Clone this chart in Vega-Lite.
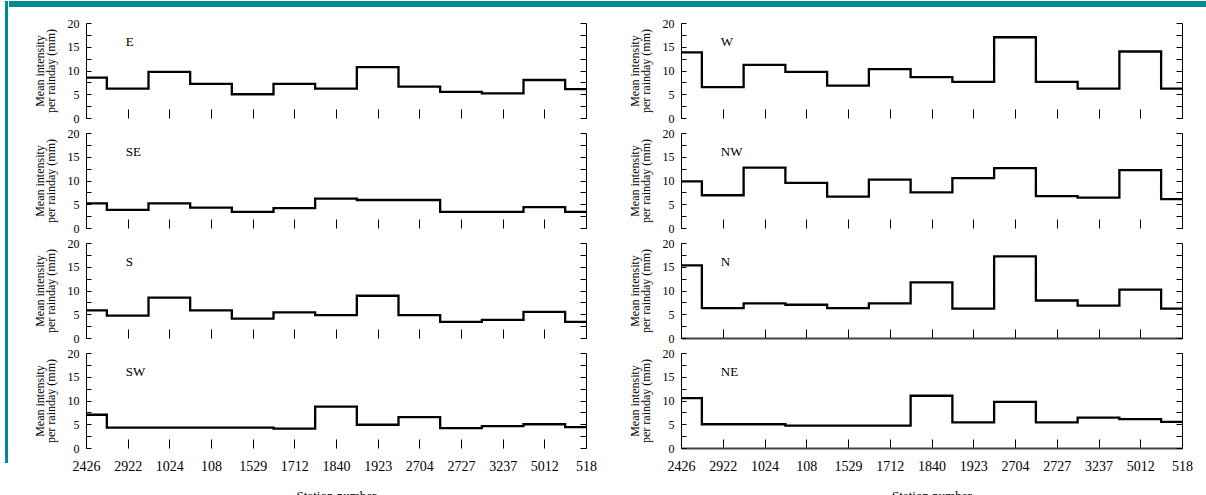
{
  "$schema": "https://vega.github.io/schema/vega-lite/v6.json",
  "padding": {"left": 4, "top": 0, "right": 0, "bottom": 0},
  "datasets": {
    "d": [
      {"dir":"E","station":"2426","value":8.5},{"dir":"E","station":"2922","value":6.2},{"dir":"E","station":"1024","value":9.7},{"dir":"E","station":"108","value":7.2},{"dir":"E","station":"1529","value":5.0},{"dir":"E","station":"1712","value":7.2},{"dir":"E","station":"1840","value":6.2},{"dir":"E","station":"1923","value":10.7},{"dir":"E","station":"2704","value":6.6},{"dir":"E","station":"2727","value":5.5},{"dir":"E","station":"3237","value":5.2},{"dir":"E","station":"5012","value":8.0},{"dir":"E","station":"518","value":6.1},
      {"dir":"SE","station":"2426","value":5.2},{"dir":"SE","station":"2922","value":3.8},{"dir":"SE","station":"1024","value":5.2},{"dir":"SE","station":"108","value":4.3},{"dir":"SE","station":"1529","value":3.4},{"dir":"SE","station":"1712","value":4.2},{"dir":"SE","station":"1840","value":6.2},{"dir":"SE","station":"1923","value":5.9},{"dir":"SE","station":"2704","value":5.9},{"dir":"SE","station":"2727","value":3.4},{"dir":"SE","station":"3237","value":3.4},{"dir":"SE","station":"5012","value":4.4},{"dir":"SE","station":"518","value":3.4},
      {"dir":"S","station":"2426","value":5.8},{"dir":"S","station":"2922","value":4.7},{"dir":"S","station":"1024","value":8.5},{"dir":"S","station":"108","value":5.8},{"dir":"S","station":"1529","value":4.1},{"dir":"S","station":"1712","value":5.4},{"dir":"S","station":"1840","value":4.8},{"dir":"S","station":"1923","value":8.9},{"dir":"S","station":"2704","value":4.8},{"dir":"S","station":"2727","value":3.4},{"dir":"S","station":"3237","value":3.8},{"dir":"S","station":"5012","value":5.5},{"dir":"S","station":"518","value":3.4},
      {"dir":"SW","station":"2426","value":7.0},{"dir":"SW","station":"2922","value":4.3},{"dir":"SW","station":"1024","value":4.3},{"dir":"SW","station":"108","value":4.3},{"dir":"SW","station":"1529","value":4.3},{"dir":"SW","station":"1712","value":4.1},{"dir":"SW","station":"1840","value":8.7},{"dir":"SW","station":"1923","value":4.9},{"dir":"SW","station":"2704","value":6.5},{"dir":"SW","station":"2727","value":4.2},{"dir":"SW","station":"3237","value":4.6},{"dir":"SW","station":"5012","value":5.0},{"dir":"SW","station":"518","value":4.4},
      {"dir":"W","station":"2426","value":13.8},{"dir":"W","station":"2922","value":6.5},{"dir":"W","station":"1024","value":11.2},{"dir":"W","station":"108","value":9.7},{"dir":"W","station":"1529","value":6.8},{"dir":"W","station":"1712","value":10.3},{"dir":"W","station":"1840","value":8.6},{"dir":"W","station":"1923","value":7.6},{"dir":"W","station":"2704","value":17.0},{"dir":"W","station":"2727","value":7.6},{"dir":"W","station":"3237","value":6.2},{"dir":"W","station":"5012","value":14.0},{"dir":"W","station":"518","value":6.2},
      {"dir":"NW","station":"2426","value":9.8},{"dir":"NW","station":"2922","value":6.9},{"dir":"NW","station":"1024","value":12.7},{"dir":"NW","station":"108","value":9.5},{"dir":"NW","station":"1529","value":6.6},{"dir":"NW","station":"1712","value":10.2},{"dir":"NW","station":"1840","value":7.5},{"dir":"NW","station":"1923","value":10.5},{"dir":"NW","station":"2704","value":12.6},{"dir":"NW","station":"2727","value":6.7},{"dir":"NW","station":"3237","value":6.4},{"dir":"NW","station":"5012","value":12.2},{"dir":"NW","station":"518","value":6.1},
      {"dir":"N","station":"2426","value":15.3},{"dir":"N","station":"2922","value":6.3},{"dir":"N","station":"1024","value":7.3},{"dir":"N","station":"108","value":7.0},{"dir":"N","station":"1529","value":6.3},{"dir":"N","station":"1712","value":7.3},{"dir":"N","station":"1840","value":11.7},{"dir":"N","station":"1923","value":6.2},{"dir":"N","station":"2704","value":17.2},{"dir":"N","station":"2727","value":7.9},{"dir":"N","station":"3237","value":6.8},{"dir":"N","station":"5012","value":10.2},{"dir":"N","station":"518","value":6.2},
      {"dir":"NE","station":"2426","value":10.5},{"dir":"NE","station":"2922","value":5.0},{"dir":"NE","station":"1024","value":5.0},{"dir":"NE","station":"108","value":4.7},{"dir":"NE","station":"1529","value":4.7},{"dir":"NE","station":"1712","value":4.7},{"dir":"NE","station":"1840","value":11.0},{"dir":"NE","station":"1923","value":5.4},{"dir":"NE","station":"2704","value":9.7},{"dir":"NE","station":"2727","value":5.4},{"dir":"NE","station":"3237","value":6.4},{"dir":"NE","station":"5012","value":6.1},{"dir":"NE","station":"518","value":5.5}
    ]
  },
  "data": {"name": "d"},
  "config": {
    "font": "Liberation Serif",
    "view": {"stroke": null},
    "axis": {"grid": false, "domainColor": "#000", "tickColor": "#000", "labelColor": "#000", "titleColor": "#000", "labelFont": "Liberation Serif", "titleFont": "Liberation Serif", "titleFontWeight": "normal"}
  },
  "spacing": 0,
  "hconcat": [
    {"width": 3, "height": 462, "view": {"fill": "#008a93", "stroke": null}, "data": {"values": [{}]}, "mark": {"type": "rule", "opacity": 0}, "encoding": {}},
    {
      "spacing": 10,
      "vconcat": [
        {"width": 1199, "height": 6, "view": {"fill": "#008a93", "stroke": null}, "data": {"values": [{}]}, "mark": {"type": "rule", "opacity": 0}, "encoding": {}},
        {
          "spacing": 31,
          "hconcat": [
            {
              "spacing": 23,
              "hconcat": [
                {"width": 1, "height": 1, "data": {"values": [{}]}, "mark": {"type": "rule", "opacity": 0}, "encoding": {}},
                {
                  "spacing": 3,
                  "vconcat": [
                    {"width": 500, "height": 95, "transform": [{"filter": "datum.dir === 'E'"}],
                     "layer": [
                      {"mark": {"type": "line", "interpolate": "step", "color": "#000", "strokeWidth": 2.3},
                       "encoding": {
                        "x": {"field": "station", "type": "ordinal", "sort": null, "scale": {"type": "point", "padding": 0, "domain": ["2426","2922","1024","108","1529","1712","1840","1923","2704","2727","3237","5012","518"]}, "axis": {"orient": "bottom", "tickSize": -9, "domain": false, "labels": false, "title": null}},
                        "y": {"field": "value", "type": "quantitative", "scale": {"domain": [0, 20], "nice": false}, "axis": {"orient": "left", "values": [0,2.5,5,7.5,10,12.5,15,17.5,20], "labelExpr": "datum.value % 5 === 0 ? datum.label : ''", "tickSize": -5, "labelFontSize": 12, "labelPadding": 12, "labelFlush": false, "title": ["Mean intensity", "per rainday (mm)"], "titleFontSize": 12, "titleLineHeight": 11, "titlePadding": 10}}}},
                      {"mark": {"type": "line", "opacity": 0},
                       "encoding": {"x": {"field": "station", "type": "ordinal", "sort": null}, "y": {"field": "value", "type": "quantitative", "axis": {"orient": "right", "values": [0,2.5,5,7.5,10,12.5,15,17.5,20], "labels": false, "tickSize": -6, "title": null}}}},
                      {"transform": [{"filter": "datum.station === '2922'"}], "mark": {"type": "text", "align": "left", "baseline": "middle", "dx": -2, "fontSize": 13, "color": "#000"},
                       "encoding": {"x": {"field": "station", "type": "ordinal", "sort": null}, "y": {"datum": 16, "type": "quantitative", "axis": null}, "text": {"field": "dir"}}}
                     ],
                     "resolve": {"axis": {"y": "independent"}}},
                    {"width": 500, "height": 95, "transform": [{"filter": "datum.dir === 'SE'"}],
                     "layer": [
                      {"mark": {"type": "line", "interpolate": "step", "color": "#000", "strokeWidth": 2.3},
                       "encoding": {
                        "x": {"field": "station", "type": "ordinal", "sort": null, "scale": {"type": "point", "padding": 0, "domain": ["2426","2922","1024","108","1529","1712","1840","1923","2704","2727","3237","5012","518"]}, "axis": {"orient": "bottom", "tickSize": -9, "domain": false, "labels": false, "title": null}},
                        "y": {"field": "value", "type": "quantitative", "scale": {"domain": [0, 20], "nice": false}, "axis": {"orient": "left", "values": [0,2.5,5,7.5,10,12.5,15,17.5,20], "labelExpr": "datum.value % 5 === 0 ? datum.label : ''", "tickSize": -5, "labelFontSize": 12, "labelPadding": 12, "labelFlush": false, "title": ["Mean intensity", "per rainday (mm)"], "titleFontSize": 12, "titleLineHeight": 11, "titlePadding": 10}}}},
                      {"mark": {"type": "line", "opacity": 0},
                       "encoding": {"x": {"field": "station", "type": "ordinal", "sort": null}, "y": {"field": "value", "type": "quantitative", "axis": {"orient": "right", "values": [0,2.5,5,7.5,10,12.5,15,17.5,20], "labels": false, "tickSize": -6, "title": null}}}},
                      {"transform": [{"filter": "datum.station === '2922'"}], "mark": {"type": "text", "align": "left", "baseline": "middle", "dx": -2, "fontSize": 13, "color": "#000"},
                       "encoding": {"x": {"field": "station", "type": "ordinal", "sort": null}, "y": {"datum": 16, "type": "quantitative", "axis": null}, "text": {"field": "dir"}}}
                     ],
                     "resolve": {"axis": {"y": "independent"}}},
                    {"width": 500, "height": 95, "transform": [{"filter": "datum.dir === 'S'"}],
                     "layer": [
                      {"mark": {"type": "line", "interpolate": "step", "color": "#000", "strokeWidth": 2.3},
                       "encoding": {
                        "x": {"field": "station", "type": "ordinal", "sort": null, "scale": {"type": "point", "padding": 0, "domain": ["2426","2922","1024","108","1529","1712","1840","1923","2704","2727","3237","5012","518"]}, "axis": {"orient": "bottom", "tickSize": -9, "domain": false, "labels": false, "title": null}},
                        "y": {"field": "value", "type": "quantitative", "scale": {"domain": [0, 20], "nice": false}, "axis": {"orient": "left", "values": [0,2.5,5,7.5,10,12.5,15,17.5,20], "labelExpr": "datum.value % 5 === 0 ? datum.label : ''", "tickSize": -5, "labelFontSize": 12, "labelPadding": 12, "labelFlush": false, "title": ["Mean intensity", "per rainday (mm)"], "titleFontSize": 12, "titleLineHeight": 11, "titlePadding": 10}}}},
                      {"mark": {"type": "line", "opacity": 0},
                       "encoding": {"x": {"field": "station", "type": "ordinal", "sort": null}, "y": {"field": "value", "type": "quantitative", "axis": {"orient": "right", "values": [0,2.5,5,7.5,10,12.5,15,17.5,20], "labels": false, "tickSize": -6, "title": null}}}},
                      {"transform": [{"filter": "datum.station === '2922'"}], "mark": {"type": "text", "align": "left", "baseline": "middle", "dx": -2, "fontSize": 13, "color": "#000"},
                       "encoding": {"x": {"field": "station", "type": "ordinal", "sort": null}, "y": {"datum": 16, "type": "quantitative", "axis": null}, "text": {"field": "dir"}}}
                     ],
                     "resolve": {"axis": {"y": "independent"}}},
                    {"width": 500, "height": 95, "transform": [{"filter": "datum.dir === 'SW'"}],
                     "layer": [
                      {"mark": {"type": "line", "interpolate": "step", "color": "#000", "strokeWidth": 2.3},
                       "encoding": {
                        "x": {"field": "station", "type": "ordinal", "sort": null, "scale": {"type": "point", "padding": 0, "domain": ["2426","2922","1024","108","1529","1712","1840","1923","2704","2727","3237","5012","518"]}, "axis": {"orient": "bottom", "tickSize": -9, "domain": false, "labels": true, "labelAngle": 0, "labelFontSize": 14, "labelPadding": 20, "title": "Station number", "titleFontSize": 13, "titlePadding": 16}},
                        "y": {"field": "value", "type": "quantitative", "scale": {"domain": [0, 20], "nice": false}, "axis": {"orient": "left", "values": [0,2.5,5,7.5,10,12.5,15,17.5,20], "labelExpr": "datum.value % 5 === 0 ? datum.label : ''", "tickSize": -5, "labelFontSize": 12, "labelPadding": 12, "labelFlush": false, "title": ["Mean intensity", "per rainday (mm)"], "titleFontSize": 12, "titleLineHeight": 11, "titlePadding": 10}}}},
                      {"mark": {"type": "line", "opacity": 0},
                       "encoding": {"x": {"field": "station", "type": "ordinal", "sort": null}, "y": {"field": "value", "type": "quantitative", "axis": {"orient": "right", "values": [0,2.5,5,7.5,10,12.5,15,17.5,20], "labels": false, "tickSize": -6, "title": null}}}},
                      {"transform": [{"filter": "datum.station === '2922'"}], "mark": {"type": "text", "align": "left", "baseline": "middle", "dx": -2, "fontSize": 13, "color": "#000"},
                       "encoding": {"x": {"field": "station", "type": "ordinal", "sort": null}, "y": {"datum": 16, "type": "quantitative", "axis": null}, "text": {"field": "dir"}}}
                     ],
                     "resolve": {"axis": {"y": "independent"}}}
                  ]
                }
              ]
            },
            {
              "spacing": 3,
              "vconcat": [
                {"width": 501, "height": 95, "transform": [{"filter": "datum.dir === 'W'"}],
                 "layer": [
                  {"mark": {"type": "line", "interpolate": "step", "color": "#000", "strokeWidth": 2.3},
                   "encoding": {
                    "x": {"field": "station", "type": "ordinal", "sort": null, "scale": {"type": "point", "padding": 0, "domain": ["2426","2922","1024","108","1529","1712","1840","1923","2704","2727","3237","5012","518"]}, "axis": {"orient": "bottom", "tickSize": -9, "domain": false, "labels": false, "title": null}},
                    "y": {"field": "value", "type": "quantitative", "scale": {"domain": [0, 20], "nice": false}, "axis": {"orient": "left", "values": [0,2.5,5,7.5,10,12.5,15,17.5,20], "labelExpr": "datum.value % 5 === 0 ? datum.label : ''", "tickSize": -5, "labelFontSize": 12, "labelPadding": 12, "labelFlush": false, "title": ["Mean intensity", "per rainday (mm)"], "titleFontSize": 12, "titleLineHeight": 11, "titlePadding": 10}}}},
                  {"mark": {"type": "line", "opacity": 0},
                   "encoding": {"x": {"field": "station", "type": "ordinal", "sort": null}, "y": {"field": "value", "type": "quantitative", "axis": {"orient": "right", "values": [0,2.5,5,7.5,10,12.5,15,17.5,20], "labels": false, "tickSize": -6, "title": null}}}},
                  {"transform": [{"filter": "datum.station === '2922'"}], "mark": {"type": "text", "align": "left", "baseline": "middle", "dx": -2, "fontSize": 13, "color": "#000"},
                   "encoding": {"x": {"field": "station", "type": "ordinal", "sort": null}, "y": {"datum": 16, "type": "quantitative", "axis": null}, "text": {"field": "dir"}}}
                 ],
                 "resolve": {"axis": {"y": "independent"}}},
                {"width": 501, "height": 95, "transform": [{"filter": "datum.dir === 'NW'"}],
                 "layer": [
                  {"mark": {"type": "line", "interpolate": "step", "color": "#000", "strokeWidth": 2.3},
                   "encoding": {
                    "x": {"field": "station", "type": "ordinal", "sort": null, "scale": {"type": "point", "padding": 0, "domain": ["2426","2922","1024","108","1529","1712","1840","1923","2704","2727","3237","5012","518"]}, "axis": {"orient": "bottom", "tickSize": -9, "domain": false, "labels": false, "title": null}},
                    "y": {"field": "value", "type": "quantitative", "scale": {"domain": [0, 20], "nice": false}, "axis": {"orient": "left", "values": [0,2.5,5,7.5,10,12.5,15,17.5,20], "labelExpr": "datum.value % 5 === 0 ? datum.label : ''", "tickSize": -5, "labelFontSize": 12, "labelPadding": 12, "labelFlush": false, "title": ["Mean intensity", "per rainday (mm)"], "titleFontSize": 12, "titleLineHeight": 11, "titlePadding": 10}}}},
                  {"mark": {"type": "line", "opacity": 0},
                   "encoding": {"x": {"field": "station", "type": "ordinal", "sort": null}, "y": {"field": "value", "type": "quantitative", "axis": {"orient": "right", "values": [0,2.5,5,7.5,10,12.5,15,17.5,20], "labels": false, "tickSize": -6, "title": null}}}},
                  {"transform": [{"filter": "datum.station === '2922'"}], "mark": {"type": "text", "align": "left", "baseline": "middle", "dx": -2, "fontSize": 13, "color": "#000"},
                   "encoding": {"x": {"field": "station", "type": "ordinal", "sort": null}, "y": {"datum": 16, "type": "quantitative", "axis": null}, "text": {"field": "dir"}}}
                 ],
                 "resolve": {"axis": {"y": "independent"}}},
                {"width": 501, "height": 95, "transform": [{"filter": "datum.dir === 'N'"}],
                 "layer": [
                  {"mark": {"type": "line", "interpolate": "step", "color": "#000", "strokeWidth": 2.3},
                   "encoding": {
                    "x": {"field": "station", "type": "ordinal", "sort": null, "scale": {"type": "point", "padding": 0, "domain": ["2426","2922","1024","108","1529","1712","1840","1923","2704","2727","3237","5012","518"]}, "axis": {"orient": "bottom", "tickSize": -9, "domain": true, "domainColor": "#444", "domainWidth": 2, "labels": false, "title": null}},
                    "y": {"field": "value", "type": "quantitative", "scale": {"domain": [0, 20], "nice": false}, "axis": {"orient": "left", "values": [0,2.5,5,7.5,10,12.5,15,17.5,20], "labelExpr": "datum.value % 5 === 0 ? datum.label : ''", "tickSize": -5, "labelFontSize": 12, "labelPadding": 12, "labelFlush": false, "title": ["Mean intensity", "per rainday (mm)"], "titleFontSize": 12, "titleLineHeight": 11, "titlePadding": 10}}}},
                  {"mark": {"type": "line", "opacity": 0},
                   "encoding": {"x": {"field": "station", "type": "ordinal", "sort": null}, "y": {"field": "value", "type": "quantitative", "axis": {"orient": "right", "values": [0,2.5,5,7.5,10,12.5,15,17.5,20], "labels": false, "tickSize": -6, "title": null}}}},
                  {"transform": [{"filter": "datum.station === '2922'"}], "mark": {"type": "text", "align": "left", "baseline": "middle", "dx": -2, "fontSize": 13, "color": "#000"},
                   "encoding": {"x": {"field": "station", "type": "ordinal", "sort": null}, "y": {"datum": 16, "type": "quantitative", "axis": null}, "text": {"field": "dir"}}}
                 ],
                 "resolve": {"axis": {"y": "independent"}}},
                {"width": 501, "height": 95, "transform": [{"filter": "datum.dir === 'NE'"}],
                 "layer": [
                  {"mark": {"type": "line", "interpolate": "step", "color": "#000", "strokeWidth": 2.3},
                   "encoding": {
                    "x": {"field": "station", "type": "ordinal", "sort": null, "scale": {"type": "point", "padding": 0, "domain": ["2426","2922","1024","108","1529","1712","1840","1923","2704","2727","3237","5012","518"]}, "axis": {"orient": "bottom", "tickSize": -9, "domain": true, "domainColor": "#444", "domainWidth": 2, "labels": true, "labelAngle": 0, "labelFontSize": 14, "labelPadding": 20, "title": "Station number", "titleFontSize": 13, "titlePadding": 16}},
                    "y": {"field": "value", "type": "quantitative", "scale": {"domain": [0, 20], "nice": false}, "axis": {"orient": "left", "values": [0,2.5,5,7.5,10,12.5,15,17.5,20], "labelExpr": "datum.value % 5 === 0 ? datum.label : ''", "tickSize": -5, "labelFontSize": 12, "labelPadding": 12, "labelFlush": false, "title": ["Mean intensity", "per rainday (mm)"], "titleFontSize": 12, "titleLineHeight": 11, "titlePadding": 10}}}},
                  {"mark": {"type": "line", "opacity": 0},
                   "encoding": {"x": {"field": "station", "type": "ordinal", "sort": null}, "y": {"field": "value", "type": "quantitative", "axis": {"orient": "right", "values": [0,2.5,5,7.5,10,12.5,15,17.5,20], "labels": false, "tickSize": -6, "title": null}}}},
                  {"transform": [{"filter": "datum.station === '2922'"}], "mark": {"type": "text", "align": "left", "baseline": "middle", "dx": -2, "fontSize": 13, "color": "#000"},
                   "encoding": {"x": {"field": "station", "type": "ordinal", "sort": null}, "y": {"datum": 16, "type": "quantitative", "axis": null}, "text": {"field": "dir"}}}
                 ],
                 "resolve": {"axis": {"y": "independent"}}}
              ]
            }
          ]
        }
      ]
    }
  ]
}
